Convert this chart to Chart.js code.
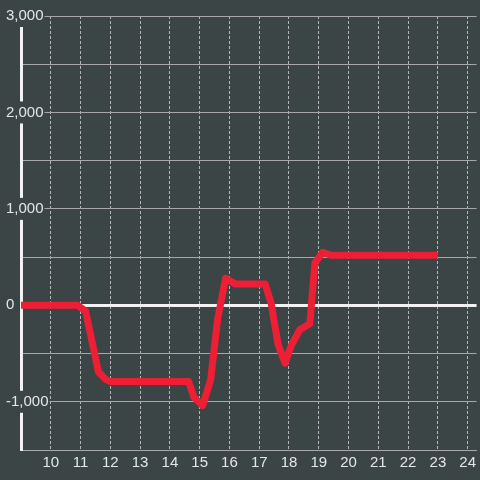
<!DOCTYPE html>
<html>
<head>
<meta charset="utf-8">
<script src="https://cdn.jsdelivr.net/npm/chart.js@4"></script>
<style>
    html, body { margin: 0; padding: 0; background: #3b4545; }
    #wrap { width: 480px; height: 480px; }
</style>
</head>
<body>
<div id="wrap"><canvas id="courbe"></canvas></div>
<script>

const heures = [9, 10.9, 11.17, 11.6, 11.85, 12.0, 14.63, 14.8, 15.1, 15.37, 15.6, 15.87, 16.2, 17.2, 17.4, 17.63, 17.87, 18.07, 18.37, 18.7, 18.87, 19.13, 19.4, 23];
const valeurs = [0, 0, -60, -690, -770, -790, -790, -950, -1040, -770, -150, 280, 220, 220, 20, -400, -600, -420, -250, -190, 440, 550, 520, 520];
const yTicks = [-1000, 0, 1000, 2000, 3000];

const fond = '#3b4545';
const courbe = document.querySelector('#courbe');

new Chart(courbe, {

    type: 'line',
    data: {
        datasets: [
            {
                data: heures.map((h, i) => ({ x: h, y: valeurs[i] })),
                borderColor: '#ee1f35',
                borderWidth: 7,
                borderJoinStyle: 'round',
                pointRadius: 0,
                tension: 0,
                fill: false
            }
        ]
    },
    options: {
        responsive: true,
        maintainAspectRatio: false,
        animation: false,
        layout: {
            padding: { left: 6, top: 16, right: 0, bottom: 4 }
        },
        plugins: {
            legend: { display: false },
            tooltip: { enabled: false }
        },
        scales: {
            x: {
                type: 'linear',
                min: 9,
                max: 24.3,
                grid: {
                    color: '#b8b8b8',
                    drawTicks: false
                },
                border: { display: true, color: '#a8a8a8', width: 1, dash: [3, 2] },
                ticks: {
                    stepSize: 1,
                    includeBounds: false,
                    padding: 4,
                    color: '#e6e6e6',
                    font: { size: 15 },
                    callback: (v) => v < 10 ? null : String(v)
                }
            },
            y: {
                min: -1500,
                max: 3000,
                afterFit: (scale) => { scale.width = 15; },
                grid: {
                    drawTicks: false,
                    color: (ctx) => ctx.tick && ctx.tick.value === 0 ? '#f2f2f2' : '#a8a8a8',
                    lineWidth: (ctx) => ctx.tick && ctx.tick.value === 0 ? 3 : 1
                },
                border: { color: '#f2f2f2', width: 3 },
                ticks: {
                    stepSize: 500,
                    mirror: true,
                    padding: -15,
                    color: '#e6e6e6',
                    font: { size: 15 },
                    showLabelBackdrop: (ctx) => yTicks.includes(ctx.tick.value),
                    backdropColor: fond,
                    backdropPadding: { top: 2, bottom: 2, left: 1, right: 1 },
                    callback: (v) => yTicks.includes(v) ? v.toLocaleString('en-US') : ''
                }
            }
        }
    },
    plugins: [{
        id: 'fond',
        beforeDraw(chart) {
            chart.ctx.save();
            chart.ctx.fillStyle = fond;
            chart.ctx.fillRect(0, 0, chart.width, chart.height);
            chart.ctx.restore();
        }
    }]

});

</script>
</body>
</html>
